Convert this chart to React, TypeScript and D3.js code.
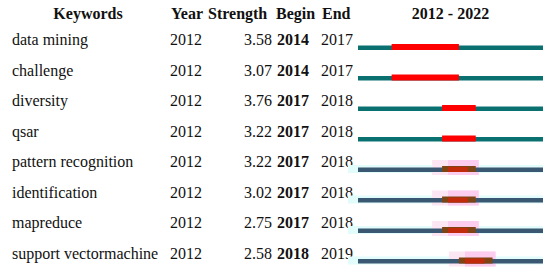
import * as d3 from 'd3'
import { useEffect, useRef } from 'react'

const keywords = ['data mining', 'challenge', 'diversity', 'qsar', 'pattern recognition', 'identification', 'mapreduce', 'support vectormachine']
const years = [2012, 2012, 2012, 2012, 2012, 2012, 2012, 2012]
const strengths = [3.58, 3.07, 3.76, 3.22, 3.22, 3.02, 2.75, 2.58]
const begins = [2014, 2014, 2017, 2017, 2017, 2017, 2017, 2018]
const ends = [2017, 2017, 2018, 2018, 2018, 2018, 2018, 2019]
// rows drawn in the faded style at the bottom of the table
const faded = [false, false, false, false, true, true, true, true]
const headers = ['Keywords', 'Year', 'Strength', 'Begin', 'End', '2012 - 2022']
const startYear = 2012
const endYear = 2022

const App = () => {
  const svgRef = useRef<SVGSVGElement>(null)
  const width = 550
  const height = 276

  useEffect(() => {
    const svg = d3.select(svgRef.current)
    svg.selectAll('*').remove()
    const font = 'Liberation Serif'

    const x = d3.scaleLinear([startYear, endYear + 1], [358, 543])
    const y = d3.scalePoint<number>(d3.range(keywords.length), [48, 261.5])
    const span = (k: number) => x(ends[k] + 1) - x(begins[k])

    const headX = [88, 171, 208, 276, 322, (x(startYear) + x(endYear + 1)) / 2]
    const headAnchor = ['middle', 'start', 'start', 'start', 'start', 'middle']
    svg.append('g')
      .selectAll('text')
      .data(headers)
      .join('text')
      .style('font-family', font)
      .attr('font-size', 16)
      .attr('font-weight', 'bold')
      .attr('fill', '#111')
      .attr('x', (d, i) => headX[i])
      .attr('y', 19)
      .attr('text-anchor', (d, i) => headAnchor[i])
      .text(d => d)

    const rows = svg.append('g')
      .selectAll('g')
      .data(d3.range(keywords.length))
      .join('g')
      .attr('transform', i => `translate(0,${y(i)})`)

    const cell = (xPos: number, value: (i: number) => string | number, anchor = 'start', bold = false) =>
      rows.append('text')
        .style('font-family', font)
        .attr('font-size', 16)
        .attr('font-weight', bold ? 'bold' : 'normal')
        .attr('fill', '#111')
        .attr('x', xPos)
        .attr('y', -3)
        .attr('text-anchor', anchor)
        .text(i => value(i))

    cell(12, i => keywords[i])
    cell(170, i => years[i])
    cell(272, i => strengths[i].toFixed(2), 'end')
    cell(277, i => begins[i], 'start', true)
    cell(321, i => ends[i])

    const fadedRows = rows.filter(i => faded[i])
    // faded rows: light bands behind the line and burst
    fadedRows.append('rect')
      .attr('x', x(startYear) - 10)
      .attr('y', -5)
      .attr('width', x(endYear + 1) - x(startYear) + 10)
      .attr('height', 8)
      .attr('fill', '#e2fbfb')
    fadedRows.append('rect')
      .attr('x', i => x(begins[i]) - 10)
      .attr('y', -10)
      .attr('width', i => span(i) + 13)
      .attr('height', 15)
      .attr('fill', '#fde6f4')
    fadedRows.append('rect')
      .attr('x', i => x(begins[i]) + 6)
      .attr('y', -10)
      .attr('width', i => span(i) - 3)
      .attr('height', 15)
      .attr('fill', '#fccdee')

    rows.append('rect')
      .attr('x', x(startYear))
      .attr('y', -2.5)
      .attr('width', x(endYear + 1) - x(startYear))
      .attr('height', 4.5)
      .attr('fill', i => faded[i] ? '#3a5872' : '#0a7170')

    rows.append('rect')
      .attr('x', i => x(begins[i]))
      .attr('y', -4)
      .attr('width', i => span(i))
      .attr('height', 6)
      .attr('fill', i => faded[i] ? '#7e4414' : '#fe0000')

    fadedRows.append('rect')
      .attr('x', i => x(begins[i]) + 6)
      .attr('y', -3)
      .attr('width', i => span(i) - 14)
      .attr('height', 5)
      .attr('fill', '#c22a0c')
  }, [])

  return <svg ref={svgRef} width={width} height={height} style={{ position: 'absolute', left: 0, top: 0 }} />
}

export default App
